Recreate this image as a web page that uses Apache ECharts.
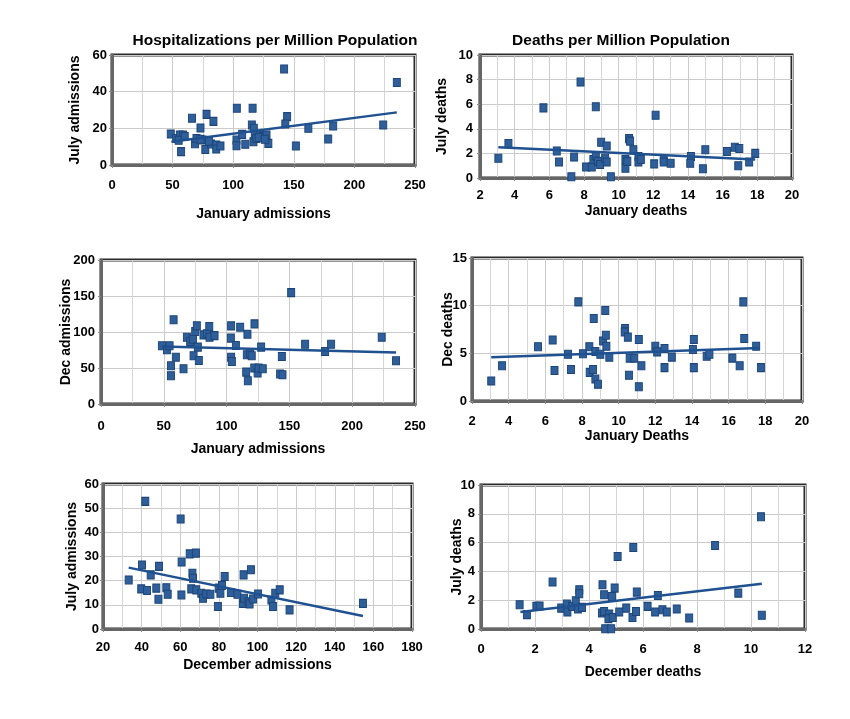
<!DOCTYPE html>
<html><head><meta charset="utf-8">
<script src="https://cdn.jsdelivr.net/npm/echarts@6/dist/echarts.min.js"></script>
<style>html,body{margin:0;padding:0;background:#fff}#c{width:850px;height:719px}</style>
</head><body><div id="c"></div>
<script>
// Panel 1: January admissions vs July admissions
const p1JanAdm = [48.5,53,56,58.6,57,66,68.5,69.7,73,75,77,78,83.7,81.8,86,86,89.5,102.7,102.7,107.4,110,115.4,117,116.7,117.8,119,122,124.7,127.5,129,151.7,162,178.4,182.5,223.8,142,235,103,116,144.5,143,55,60,73,80,121,126];
const p1JulAdm = [16.9,14.5,16.4,16.4,7.3,25.5,11.6,14.5,20.2,13.6,8.5,27.6,23.8,11.5,10.9,8.7,10.4,13.6,10.5,16.7,11.3,21.8,20,12.7,16.4,14.5,16.4,15.5,16.4,11.8,10.4,20,14.2,21.3,21.8,52.4,45,31,31,26.4,22.4,13.5,15.5,14,13,15,14];
const p1Trend = [[49,12.7],[235,28.7]];

// Panel 2: January deaths vs July deaths
const p2JanDeaths = [3.06,3.64,5.66,6.43,6.56,7.43,7.27,7.8,8.68,8.12,8.45,8.54,8.68,8.8,8.93,8.99,9.22,9.31,9.31,9.55,10.39,10.39,10.5,10.6,10.66,10.85,11.14,11.14,11.28,12.13,12.05,12.6,12.6,13.0,14.17,14.13,14.86,15.0,16.25,16.7,16.96,16.9,17.53,17.88];
const p2JulDeaths = [1.6,2.8,5.7,2.2,1.3,1.7,0.1,7.8,5.8,0.9,0.9,1.5,1.8,1.35,1.1,2.9,1.6,2.6,1.3,0.1,1.5,0.8,1.35,3.2,3.0,2.3,1.75,1.3,1.5,5.1,1.15,1.5,1.3,1.2,1.75,1.2,0.75,2.3,2.15,2.5,2.4,1.0,1.3,2.0];
const p2Trend = [[3.06,2.5],[17.88,1.5]];

// Panel 3: January admissions vs Dec admissions
const p3JanAdm = [48.5,52.5,54.6,57.8,55.7,55.7,59.6,65.7,68.4,71,73.2,75,76.3,73.7,77.1,77.9,81.6,84.3,86.2,86.4,90.4,103.6,103.4,103.6,104.2,107.4,110.8,116.6,122.2,116.1,118.7,120,115.6,116.9,122,124.7,125.4,128.8,127.5,144,142.6,144.5,151.4,162.5,178.4,183.2,223.5,234.9];
const p3DecAdm = [80.8,75.3,80.8,116.9,53,39.3,65,49,92.8,86.8,90,100.7,108.5,67,79,60.5,96,97.5,107.6,92.8,95,108.5,91.5,65,59,81.3,106.7,97,111.3,68.4,69.7,67,44.3,32.3,49.9,43,49.9,49,79,66,41.6,40.6,154.7,83,73,83,92.8,60];
const p3Trend = [[48.5,80],[234.9,71.6]];

// Panel 4: January deaths vs Dec deaths
const p4JanDeaths = [3.05,3.64,5.6,6.4,6.5,7.24,7.4,7.8,8.05,8.4,8.42,8.6,8.64,8.73,8.73,8.87,9.0,9.15,9.27,9.3,9.33,9.49,10.35,10.33,10.5,10.56,10.6,10.85,11.1,11.1,11.24,12.0,12.1,12.5,12.5,12.9,14.1,14.05,14.1,14.8,14.95,16.2,16.6,16.8,16.85,17.5,17.76];
const p4DecDeaths = [2.1,3.7,5.7,6.4,3.2,4.9,3.3,10.4,4.95,5.7,3.0,3.3,8.65,5.2,2.3,1.75,4.9,6.3,9.5,6.9,5.75,4.6,7.6,7.25,6.7,2.7,4.5,4.5,6.45,1.5,3.7,5.75,5.15,5.5,3.5,4.6,6.45,5.4,3.5,4.7,4.9,4.5,3.7,10.4,6.55,5.75,3.5];
const p4Trend = [[3.05,4.6],[17.7,5.55]];

// Panel 5: December admissions vs July admissions
const p5DecAdm = [33.3,40.2,39.8,41.9,42.8,44.7,47.6,48.7,49,52.8,53.5,60.2,60.7,60.6,64.9,68.1,66.3,66.6,65.7,68.3,70.9,71.8,73.5,75.6,79.5,79.9,80.8,81.6,83,86.2,89.6,92.8,92.5,93,95.4,95.9,96.6,97.7,100.3,107.2,108,109.2,111.5,116.6,154.6];
const p5JulAdm = [20.3,26.5,16.6,52.8,15.9,22.4,16.9,12.3,25.9,17.1,14.4,45.5,27.7,14.1,31.1,31.4,23.1,21,16.6,16.2,14.8,12.7,14.5,14.4,9.3,16.9,14.8,18,21.7,15.1,14.4,22.4,10.6,12.7,11.3,10.4,24.5,12.4,14.5,12,9.3,14.8,16.2,7.9,10.6];
const p5Trend = [[33.3,25.4],[154.6,5.4]];

// Panel 6: December deaths vs July deaths
const p6DecDeaths = [1.43,1.7,2.05,2.17,2.65,2.97,3.18,3.2,3.37,3.51,3.59,3.64,3.64,3.74,4.5,4.56,4.48,4.56,4.6,4.75,4.72,4.82,4.85,4.88,4.95,5.06,5.12,5.38,5.64,5.61,5.74,5.77,6.17,6.45,6.55,6.72,6.88,7.25,7.71,8.67,9.53,10.37,10.4];
const p6JulDeaths = [1.69,1.0,1.57,1.6,3.26,1.45,1.73,1.18,1.57,1.96,1.39,2.73,2.45,1.5,3.07,2.38,1.11,1.22,0.02,1.04,0.72,0.02,2.26,0.8,2.84,5.03,1.18,1.45,5.66,0.8,1.22,2.56,1.57,1.18,2.33,1.34,1.18,1.39,0.76,5.8,2.49,7.8,0.95];
const p6Trend = [[1.46,1.18],[10.4,3.14]];

const FONT = '"Liberation Sans", Arial, sans-serif';
const zip = (a, b) => a.map((v, i) => [v, b[i]]);

const grids = [
  {left:112, top:55, width:303, height:110},
  {left:480, top:55, width:312, height:123},
  {left:101, top:260, width:314, height:144},
  {left:472, top:258, width:330, height:143},
  {left:103, top:484, width:309, height:145},
  {left:481, top:485, width:324, height:144}
].map(g => Object.assign({show:true, borderColor:'#2a2a2a', borderWidth:3, backgroundColor:'#fff'}, g));

const xSpec = [
  {min:0,max:250,interval:50,name:'January admissions',nameGap:42,margin:14},
  {min:2,max:20,interval:2,name:'January deaths',nameGap:26,margin:11},
  {min:0,max:250,interval:50,name:'January admissions',nameGap:38,margin:16},
  {min:2,max:20,interval:2,name:'January Deaths',nameGap:28,margin:14},
  {min:20,max:180,interval:20,name:'December admissions',nameGap:29,margin:12},
  {min:0,max:12,interval:2,name:'December deaths',nameGap:36,margin:14}
];
const ySpec = [
  {min:0,max:60,interval:20,name:'July admissions',nameGap:30,margin:5},
  {min:0,max:10,interval:2,name:'July deaths',nameGap:31,margin:7},
  {min:0,max:200,interval:50,name:'Dec admissions',nameGap:28,margin:6},
  {min:0,max:15,interval:5,name:'Dec deaths',nameGap:17,margin:5},
  {min:0,max:60,interval:10,name:'July admissions',nameGap:24,margin:4},
  {min:0,max:10,interval:2,name:'July deaths',nameGap:17,margin:6}
];
const lab = {fontFamily:FONT, fontWeight:'bold', fontSize:13, color:'#000'};
const nameStyle = {fontFamily:FONT, fontWeight:'bold', fontSize:14, color:'#000'};

const xAxis = xSpec.map((s, i) => ({
  type:'value', gridIndex:i, min:s.min, max:s.max, interval:s.interval,
  name:s.name, nameLocation:'middle', nameGap:s.nameGap, nameTextStyle:nameStyle, nameMoveOverlap:false,
  axisLine:{show:true, onZero:false, lineStyle:{color:'#666', width:3}},
  axisTick:{show:true, length:3, lineStyle:{color:'#888'}},
  axisLabel:Object.assign({margin:s.margin}, lab),
  splitLine:{show:true, lineStyle:{color:'#cbcbcb', width:1}},
  minorTick:{show:false, splitNumber:2},
  minorSplitLine:{show:true, lineStyle:{color:'#d6d6d6', width:1}}
}));
const yAxis = ySpec.map((s, i) => ({
  type:'value', gridIndex:i, min:s.min, max:s.max, interval:s.interval,
  name:s.name, nameLocation:'middle', nameGap:s.nameGap, nameRotate:90, nameTextStyle:nameStyle, nameMoveOverlap:false,
  axisLine:{show:true, onZero:false, lineStyle:{color:'#666', width:3}},
  axisTick:{show:true, length:3, lineStyle:{color:'#888'}},
  axisLabel:Object.assign({margin:s.margin}, lab),
  splitLine:{show:true, lineStyle:{color:'#cbcbcb', width:1}}
}));

const scatters = [[p1JanAdm,p1JulAdm],[p2JanDeaths,p2JulDeaths],[p3JanAdm,p3DecAdm],[p4JanDeaths,p4DecDeaths],[p5DecAdm,p5JulAdm],[p6DecDeaths,p6JulDeaths]];
const trends = [p1Trend,p2Trend,p3Trend,p4Trend,p5Trend,p6Trend];
const series = [];
scatters.forEach((p, i) => {
  series.push({type:'scatter', xAxisIndex:i, yAxisIndex:i, data:zip(p[0], p[1]), symbol:'rect', symbolSize:[7,8],
    itemStyle:{color:'#2f5f9a', borderColor:'#1d4577', borderWidth:1, opacity:1}, z:3});
  series.push({type:'line', xAxisIndex:i, yAxisIndex:i, data:trends[i], symbol:'none', silent:true,
    lineStyle:{color:'#1f5090', width:2.5}, z:4});
});

const chart = echarts.init(document.getElementById('c'), null, {renderer:'canvas'});
chart.setOption({
  animation:false,
  backgroundColor:'#fff',
  title:[
    {text:'Hospitalizations per Million Population', left:270, top:28, textAlign:'center',
     textStyle:{fontFamily:FONT, fontWeight:'bold', fontSize:15.5, color:'#000'}},
    {text:'Deaths per Million Population', left:616, top:28, textAlign:'center',
     textStyle:{fontFamily:FONT, fontWeight:'bold', fontSize:15.5, color:'#000'}}
  ],
  grid:grids, xAxis:xAxis, yAxis:yAxis, series:series
});
</script></body></html>
